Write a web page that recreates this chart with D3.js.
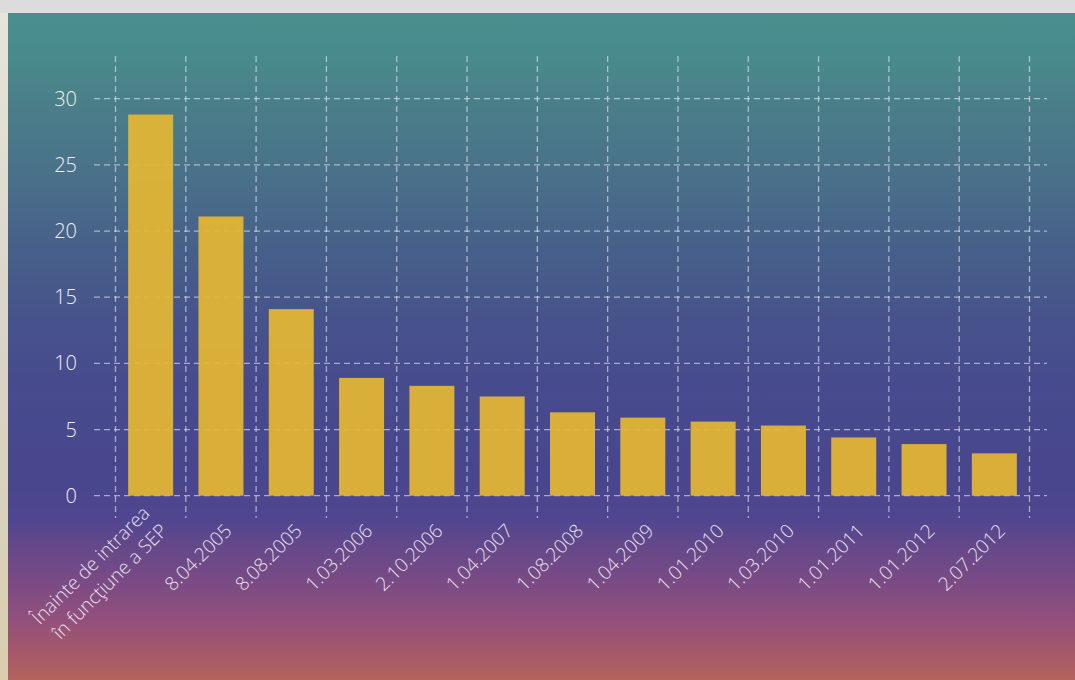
<!DOCTYPE html>
<html>
<head>
<meta charset="utf-8">
<script src="https://cdn.jsdelivr.net/npm/d3@7"></script>
<style>
  html, body { margin: 0; padding: 0; background: #dcdcdc; }
  svg { display: block; }
  text { font-family: "Open Sans", "Noto Sans", sans-serif; font-weight: 300; }
</style>
</head>
<body>
<div id="chart"></div>
<script>
// categories (dates when the pension contribution changed) and the share values
var categories = [
  "Înainte de intrarea\nîn funcţiune a SEP",
  "8.04.2005", "8.08.2005", "1.03.2006", "2.10.2006", "1.04.2007",
  "1.08.2008", "1.04.2009", "1.01.2010", "1.03.2010", "1.01.2011",
  "1.01.2012", "2.07.2012"
];
var values = [28.8, 21.1, 14.1, 8.9, 8.3, 7.5, 6.3, 5.9, 5.6, 5.3, 4.4, 3.9, 3.2];
var yTicks = [0, 5, 10, 15, 20, 25, 30];

var width = 1075, height = 680;

var svg = d3.select("#chart").append("svg")
    .attr("width", width)
    .attr("height", height);

var defs = svg.append("defs");

// blurred photo behind the chart, approximated with a gradient
var bg = defs.append("linearGradient")
    .attr("id", "bg").attr("x1", 0).attr("y1", 0).attr("x2", 0).attr("y2", 1);
[[0, "#4a8f8f"], [0.07, "#498a8c"], [0.14, "#4a7e88"], [0.25, "#49708a"],
 [0.35, "#476089"], [0.45, "#46548b"], [0.55, "#474b8d"], [0.7, "#48468d"],
 [0.76, "#504690"], [0.8, "#654889"], [0.86, "#7d4b84"], [0.91, "#93507b"],
 [0.96, "#a6586a"], [1, "#b4645c"]].forEach(function(s) {
  bg.append("stop").attr("offset", s[0]).attr("stop-color", s[1]);
});

var side = defs.append("linearGradient")
    .attr("id", "side").attr("x1", 0).attr("y1", 0).attr("x2", 0).attr("y2", 1);
[[0, "#e6e5d8"], [0.5, "#d9d3c8"], [1, "#d9cfae"]].forEach(function(s) {
  side.append("stop").attr("offset", s[0]).attr("stop-color", s[1]);
});

svg.append("rect").attr("width", width).attr("height", 13).attr("fill", "#dcdcdc");
svg.append("rect").attr("y", 13).attr("width", 8).attr("height", height - 13).attr("fill", "url(#side)");
svg.append("rect").attr("x", 8).attr("y", 13)
    .attr("width", width - 8).attr("height", height - 13)
    .attr("fill", "url(#bg)");

var x = d3.scaleBand()
    .domain(categories)
    .range([115.5, 1029.5])
    .paddingInner(0.36)
    .paddingOuter(0.18);

var y = d3.scaleLinear()
    .domain([0, 30])
    .range([495.7, 98.7]);

var step = x.step();
var x0 = x.range()[0];
var gridColor = "rgba(235,235,245,0.6)";

// vertical grid at the category boundaries
var bounds = d3.range(categories.length + 1).map(function(i) { return x0 + i * step; });
svg.append("g").attr("class", "grid-x")
  .selectAll("line")
  .data(bounds)
  .enter().append("line")
    .attr("x1", function(d) { return d; })
    .attr("x2", function(d) { return d; })
    .attr("y1", 56)
    .attr("y2", 518)
    .attr("stroke", gridColor)
    .attr("stroke-width", 1.3)
    .attr("stroke-dasharray", "6,4");

// horizontal grid
svg.append("g").attr("class", "grid-y")
  .selectAll("line")
  .data(yTicks)
  .enter().append("line")
    .attr("x1", 94)
    .attr("x2", 1047)
    .attr("y1", function(d) { return y(d); })
    .attr("y2", function(d) { return y(d); })
    .attr("stroke", gridColor)
    .attr("stroke-width", 1.3)
    .attr("stroke-dasharray", "6,4");

// bars
svg.append("g").attr("class", "bars")
  .selectAll("rect")
  .data(values)
  .enter().append("rect")
    .attr("x", function(d, i) { return x(categories[i]); })
    .attr("y", function(d) { return y(d); })
    .attr("width", x.bandwidth())
    .attr("height", function(d) { return y(0) - y(d); })
    .attr("fill", "#e2b634")
    .attr("opacity", 0.94);

// y labels
svg.append("g").attr("class", "y-labels")
  .selectAll("text")
  .data(yTicks)
  .enter().append("text")
    .attr("x", 77)
    .attr("y", function(d) { return y(d); })
    .attr("dy", "0.35em")
    .attr("text-anchor", "end")
    .attr("fill", "#f0f0f4")
    .style("font-size", "20px")
    .text(function(d) { return d; });

// x labels, rotated
var xl = svg.append("g").attr("class", "x-labels")
  .selectAll("text")
  .data(categories)
  .enter().append("text")
    .attr("text-anchor", "end")
    .attr("fill", "#e6e2ee")
    .style("font-size", "19px")
    .attr("transform", function(d) {
      var lines = d.split("\n").length;
      var cx = x(d) + x.bandwidth() / 2 + 12 + (lines > 1 ? 6 : 0);
      return "translate(" + cx + "," + 532 + ") rotate(-45)";
    });

xl.each(function(d) {
  var lines = d.split("\n");
  var t = d3.select(this);
  lines.forEach(function(l, i) {
    t.append("tspan")
      .attr("x", 0)
      .attr("y", (i - (lines.length - 1)) * 25)
      .text(l);
  });
});
</script>
</body>
</html>
